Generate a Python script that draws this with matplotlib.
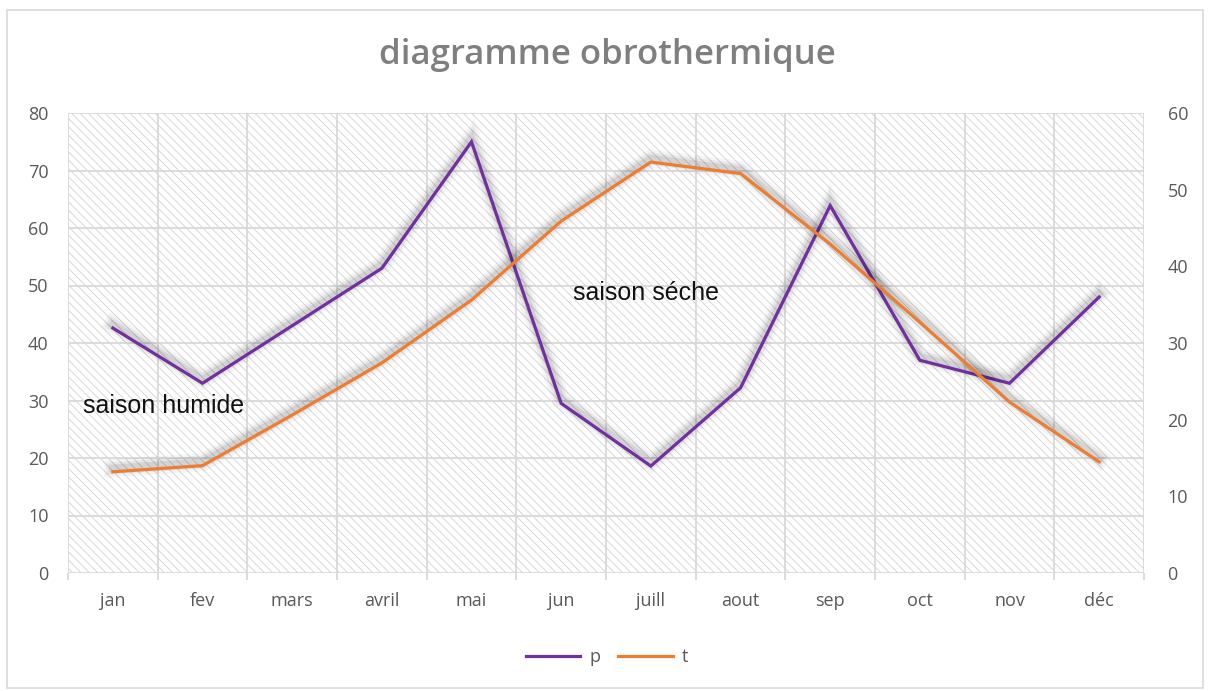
import matplotlib
matplotlib.use("Agg")
import matplotlib.pyplot as plt
import matplotlib.patheffects as pe
from matplotlib.patches import Rectangle
from matplotlib.lines import Line2D
import numpy as np

months = ["jan", "fev", "mars", "avril", "mai", "jun", "juill", "aout", "sep", "oct", "nov", "déc"]
p_values = [42.6, 33.0, 43.0, 53.0, 75.0, 29.5, 18.6, 32.2, 63.9, 37.0, 33.0, 48.0]
t_values = [13.2, 14.0, 20.6, 27.4, 35.6, 45.9, 53.6, 52.1, 42.9, 32.7, 22.3, 14.5]
left_ticks = [0, 10, 20, 30, 40, 50, 60, 70, 80]
right_ticks = [0, 10, 20, 30, 40, 50, 60]
title = "diagramme obrothermique"
label_humide = "saison humide"
label_seche = "saison séche"

plt.rcParams['font.family'] = ['Open Sans', 'DejaVu Sans']
plt.rcParams['hatch.color'] = '#d2d2d2'
plt.rcParams['hatch.linewidth'] = 0.6

W, H = 1208, 691
fig = plt.figure(figsize=(W / 100, H / 100), dpi=100)
fig.patch.set_facecolor('white')
fig.patches.append(Rectangle((7 / W, 3 / H), (1203 - 7) / W, (681 - 3) / H,
                             transform=fig.transFigure, fill=False,
                             edgecolor='#d9d9d9', linewidth=1.2))

ax = fig.add_axes([68 / W, (H - 573) / H, (1144 - 68) / W, (573 - 113) / H])
ax.set_zorder(1)
ax.patch.set_visible(False)
ax2 = ax.twinx()

bg = Rectangle((0, 0), 1, 1, transform=ax.transAxes, facecolor='white',
               hatch='\\\\\\\\', edgecolor='#d2d2d2', linewidth=0, zorder=-5)
ax2.add_patch(bg)
ax2.set_zorder(0)

x = np.arange(len(months))
ax.set_xlim(-0.5, len(months) - 0.5)
ax.set_ylim(0, 80)
ax2.set_ylim(0, 60)

grid_c = '#d9d9d9'
for yv in left_ticks:
    ax.axhline(yv, color=grid_c, lw=1.3, zorder=0.5)
for xv in np.arange(-0.5, len(months), 1.0):
    ax.axvline(xv, color=grid_c, lw=1.3, zorder=0.5)

def shadow_fx():
    return [
        pe.SimpleLineShadow(offset=(0, 2.5), shadow_color='#000000', alpha=0.04, rho=1.0, linewidth=13),
        pe.SimpleLineShadow(offset=(0, 2.5), shadow_color='#000000', alpha=0.06, rho=1.0, linewidth=9),
        pe.SimpleLineShadow(offset=(0, 2.5), shadow_color='#000000', alpha=0.08, rho=1.0, linewidth=5.5),
        pe.Normal(),
    ]

p_color = '#7030a0'
t_color = '#ed7d31'
ax.plot(x, p_values, color=p_color, lw=2.3, solid_joinstyle='miter', zorder=3,
        path_effects=shadow_fx())
t_in_left = [v * 80 / 60 for v in t_values]
ax.plot(x, t_in_left, color=t_color, lw=2.3, solid_joinstyle='miter', zorder=3,
        path_effects=shadow_fx())

tick_c = '#595959'
fs = 13
ax.set_yticks(left_ticks)
ax.set_yticklabels([str(v) for v in left_ticks])
ax2.set_yticks(right_ticks)
ax2.set_yticklabels([str(v) for v in right_ticks])
ax.tick_params(axis='y', length=0, pad=14, labelsize=fs, labelcolor=tick_c)
ax2.tick_params(axis='y', length=0, pad=17, labelsize=fs, labelcolor=tick_c)
ax.set_xticks(x)
ax.set_xticklabels(months)
ax.set_xticks(np.arange(-0.5, len(months), 1.0), minor=True)
ax.tick_params(axis='x', which='major', length=0, pad=14, labelsize=fs, labelcolor=tick_c)
ax.tick_params(axis='x', which='minor', length=5, width=1.3, color=grid_c)
for a in (ax, ax2):
    for s in a.spines.values():
        s.set_visible(False)

ax.text(-0.33, 29.0, label_humide, fontsize=18, color='#111111',
        family=['Liberation Sans', 'DejaVu Sans'], va='center', ha='left', zorder=4)
ax.text(5.13, 48.7, label_seche, fontsize=18, color='#111111',
        family=['Liberation Sans', 'DejaVu Sans'], va='center', ha='left', zorder=4)

fig.text(607 / W, 1 - 55 / H, title, fontsize=25, color='#7f7f7f', ha='center', va='center',
         fontweight='semibold')

handles = [Line2D([], [], color=p_color, lw=2.3), Line2D([], [], color=t_color, lw=2.3)]
fig.legend(handles=handles, labels=['p', 't'], loc='center', bbox_to_anchor=(607 / W, 1 - 657 / H),
           ncol=2, frameon=False, fontsize=fs, handlelength=3.0, columnspacing=1.0,
           handletextpad=0.5, labelcolor=tick_c)

fig.savefig('out.png', dpi=100)
